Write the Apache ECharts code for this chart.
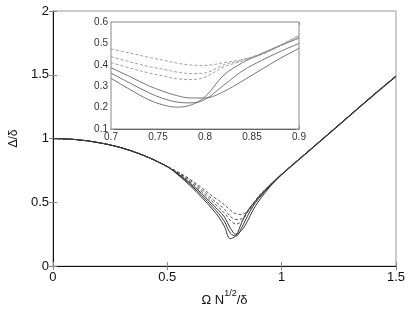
<!DOCTYPE html>
<html><head><meta charset="utf-8">
<script src="https://cdn.jsdelivr.net/npm/echarts@6/dist/echarts.min.js"></script>
<style>html,body{margin:0;padding:0;background:#fff}#c{width:409px;height:312px}</style>
</head><body><div id="c"></div>
<script>
// ---- main plot data ----
var mainX = [0, 0.1, 0.2, 0.3, 0.4, 0.5, 0.55, 0.6, 0.65, 0.7, 0.725, 0.75, 0.775, 0.8, 0.825, 0.85, 0.875, 0.9, 0.95, 1.0, 1.1, 1.2, 1.3, 1.4, 1.5];
var mainS3 = [1.0, 0.992, 0.968, 0.927, 0.865, 0.78, 0.71, 0.63, 0.54, 0.44, 0.385, 0.31, 0.215, 0.24, 0.34, 0.43, 0.49, 0.54, 0.635, 0.72, 0.875, 1.03, 1.185, 1.34, 1.49];
var mainS2 = [1.0, 0.992, 0.968, 0.927, 0.865, 0.78, 0.715, 0.64, 0.555, 0.46, 0.41, 0.35, 0.26, 0.235, 0.30, 0.39, 0.47, 0.53, 0.63, 0.72, 0.875, 1.03, 1.185, 1.34, 1.49];
var mainS1 = [1.0, 0.992, 0.968, 0.927, 0.865, 0.78, 0.72, 0.65, 0.57, 0.48, 0.435, 0.385, 0.30, 0.25, 0.28, 0.35, 0.44, 0.51, 0.625, 0.715, 0.87, 1.025, 1.18, 1.335, 1.485];
var mainD3 = [1.0, 0.992, 0.968, 0.927, 0.865, 0.78, 0.725, 0.66, 0.585, 0.50, 0.46, 0.415, 0.36, 0.33, 0.35, 0.42, 0.48, 0.54, 0.635, 0.72, 0.875, 1.03, 1.185, 1.34, 1.49];
var mainD2 = [1.0, 0.992, 0.968, 0.927, 0.865, 0.78, 0.73, 0.67, 0.60, 0.52, 0.485, 0.445, 0.39, 0.365, 0.37, 0.425, 0.485, 0.545, 0.64, 0.72, 0.875, 1.03, 1.185, 1.34, 1.49];
var mainD1 = [1.0, 0.992, 0.968, 0.927, 0.865, 0.78, 0.735, 0.68, 0.615, 0.545, 0.515, 0.48, 0.44, 0.41, 0.405, 0.43, 0.49, 0.55, 0.64, 0.72, 0.875, 1.03, 1.185, 1.34, 1.49];

// ---- inset data ----
var insetX  = [0.70, 0.72, 0.74, 0.755, 0.77, 0.785, 0.80, 0.82, 0.84, 0.86, 0.88, 0.90];
var insetS3 = [0.337, 0.285, 0.237, 0.213, 0.202, 0.212, 0.25, 0.352, 0.41, 0.452, 0.49, 0.524];
var insetS2 = [0.361, 0.315, 0.27, 0.243, 0.226, 0.222, 0.238, 0.305, 0.372, 0.42, 0.462, 0.50];
var insetS1 = [0.386, 0.345, 0.302, 0.277, 0.256, 0.245, 0.245, 0.275, 0.325, 0.378, 0.43, 0.477];
var insetD3 = [0.41, 0.385, 0.362, 0.348, 0.335, 0.331, 0.342, 0.39, 0.418, 0.447, 0.487, 0.53];
var insetD2 = [0.438, 0.414, 0.392, 0.38, 0.366, 0.359, 0.362, 0.40, 0.422, 0.45, 0.49, 0.535];
var insetD1 = [0.474, 0.455, 0.435, 0.422, 0.408, 0.399, 0.397, 0.41, 0.425, 0.452, 0.492, 0.539];

function pairs(xs, ys){ return xs.map(function(x,i){return [x, ys[i]];}); }
var FONT = 'Liberation Sans, Arial, Helvetica, sans-serif';

function mk(name, xs, ys, gi, dashed, color, w){
  return {
    name: name, type: 'line', xAxisIndex: gi === 0 ? 0 : 2, yAxisIndex: gi === 0 ? 0 : 2,
    data: pairs(xs, ys), showSymbol: false, smooth: 0.35, clip: true, animation: false,
    z: gi === 0 ? 2 : 12,
    lineStyle: { color: color, width: w, type: dashed ? [3, 2] : 'solid' }
  };
}

var option = {
  animation: false,
  backgroundColor: '#fff',
  grid: [
    { left: 42, top: 11, width: 354, height: 264, show: true, borderColor: '#999', borderWidth: 1, backgroundColor: 'transparent', z: 0 },
    { left: 111, top: 22, width: 188, height: 107, show: true, borderColor: '#888', borderWidth: 1, backgroundColor: '#fff', z: 10 }
  ],
  xAxis: [
    { gridIndex: 0, type: 'value', min: 0, max: 1.5, interval: 0.5, position: 'bottom',
      axisLine: { show: true, onZero: false, lineStyle: { color: '#111', width: 1 } },
      axisTick: { show: true, inside: true, length: 4, lineStyle: { color: '#888' } },
      splitLine: { show: false },
      axisLabel: { color: '#111', fontSize: 13, fontFamily: FONT, margin: 5 },
      name: '{a|Ω N}{s|1/2}{a|/δ}', nameLocation: 'middle', nameGap: 22,
      nameTextStyle: { color: '#111', fontFamily: FONT,
        rich: { a: { fontSize: 13, fontFamily: FONT, color: '#111', lineHeight: 18, verticalAlign: 'bottom' },
                s: { fontSize: 9, fontFamily: FONT, color: '#111', lineHeight: 18, verticalAlign: 'top' } } } },
    { gridIndex: 0, type: 'value', min: 0, max: 1.5, interval: 0.5, position: 'top',
      axisLine: { show: false }, axisTick: { show: true, inside: true, length: 4, lineStyle: { color: '#888' } },
      axisLabel: { show: false }, splitLine: { show: false } },
    { gridIndex: 1, type: 'value', min: 0.7, max: 0.9, interval: 0.05, position: 'bottom',
      axisLine: { show: true, onZero: false, lineStyle: { color: '#444', width: 1 } },
      axisTick: { show: true, inside: true, length: 3, lineStyle: { color: '#999' } },
      splitLine: { show: false },
      axisLabel: { color: '#333', fontSize: 10, fontFamily: FONT, margin: 3,
        formatter: function(v){ return (+v.toFixed(2)).toString(); } } },
    { gridIndex: 1, type: 'value', min: 0.7, max: 0.9, interval: 0.05, position: 'top',
      axisLine: { show: false }, axisTick: { show: true, inside: true, length: 3, lineStyle: { color: '#999' } },
      axisLabel: { show: false }, splitLine: { show: false } }
  ],
  yAxis: [
    { gridIndex: 0, type: 'value', min: 0, max: 2, interval: 0.5, position: 'left',
      axisLine: { show: true, onZero: false, lineStyle: { color: '#111', width: 1 } },
      axisTick: { show: true, inside: true, length: 4, lineStyle: { color: '#888' } },
      splitLine: { show: false },
      axisLabel: { color: '#111', fontSize: 13, fontFamily: FONT, margin: 4 },
      name: 'Δ/δ', nameLocation: 'middle', nameGap: 26, nameRotate: 90,
      nameTextStyle: { color: '#111', fontSize: 12, fontFamily: FONT } },
    { gridIndex: 0, type: 'value', min: 0, max: 2, interval: 0.5, position: 'right',
      axisLine: { show: false }, axisTick: { show: true, inside: true, length: 4, lineStyle: { color: '#888' } },
      axisLabel: { show: false }, splitLine: { show: false } },
    { gridIndex: 1, type: 'value', min: 0.1, max: 0.6, interval: 0.1, position: 'left',
      axisLine: { show: true, onZero: false, lineStyle: { color: '#444', width: 1 } },
      axisTick: { show: true, inside: true, length: 3, lineStyle: { color: '#999' } },
      splitLine: { show: false },
      axisLabel: { color: '#333', fontSize: 10, fontFamily: FONT, margin: 3,
        formatter: function(v){ return (+v.toFixed(2)).toString(); } } },
    { gridIndex: 1, type: 'value', min: 0.1, max: 0.6, interval: 0.1, position: 'right',
      axisLine: { show: false }, axisTick: { show: true, inside: true, length: 3, lineStyle: { color: '#999' } },
      axisLabel: { show: false }, splitLine: { show: false } }
  ],
  series: [
    mk('s3', mainX, mainS3, 0, false, '#222', 0.9),
    mk('s2', mainX, mainS2, 0, false, '#222', 0.9),
    mk('s1', mainX, mainS1, 0, false, '#222', 0.9),
    mk('d3', mainX, mainD3, 0, true, '#444', 0.9),
    mk('d2', mainX, mainD2, 0, true, '#444', 0.9),
    mk('d1', mainX, mainD1, 0, true, '#444', 0.9),
    mk('is3', insetX, insetS3, 1, false, '#555', 0.8),
    mk('is2', insetX, insetS2, 1, false, '#555', 0.8),
    mk('is1', insetX, insetS1, 1, false, '#555', 0.8),
    mk('id3', insetX, insetD3, 1, true, '#888', 0.8),
    mk('id2', insetX, insetD2, 1, true, '#888', 0.8),
    mk('id1', insetX, insetD1, 1, true, '#888', 0.8)
  ]
};
var chart = echarts.init(document.getElementById('c'), null, { renderer: 'canvas' });
chart.setOption(option);
</script>
</body></html>
